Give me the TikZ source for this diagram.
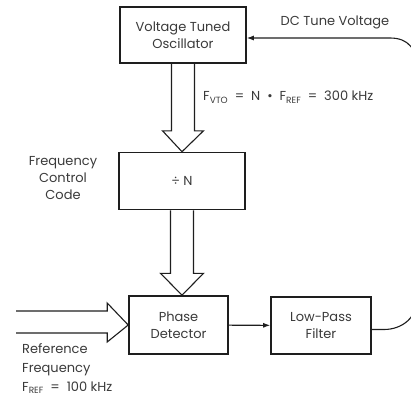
\documentclass[tikz,border=0pt]{standalone}
\usepackage{fontspec}
\setmainfont{Poppins}
\usepackage{tikz}
\usetikzlibrary{arrows.meta, positioning, calc}
\definecolor{sink}{HTML}{1E1E1E}
\definecolor{sprint}{HTML}{3A3A3A}
\newcommand{\lowtag}[1]{\raisebox{-2.5pt}{\fontsize{9}{9}\selectfont #1}}
\newcommand{\gap}{\hspace{7pt}}
\tikzset{
  >=Latex,
  font=\fontsize{13}{17}\selectfont,
  block/.style={
    draw=sink, fill=white, line width=1.6pt, align=center, text=sprint,
    inner sep=0pt, minimum width=#1, font=\fontsize{13}{17}\selectfont
  },
  block/.default=126pt,
  hollow/.style={draw=sink, line width=1.1pt, line join=miter},
  wire/.style={draw=sink, line width=1.1pt},
  tip/.style={-{Latex[length=7pt, width=5pt]}},
  lab/.style={text=sprint, align=#1, inner sep=0pt},
  lab/.default=center
}

\begin{document}
\begin{tikzpicture}[x=1pt, y=-1pt]
  \clip (0,0) rectangle (411,400);
  % blocks
  \node[block, minimum height=56pt] (vto) at (183,35) {Voltage Tuned\\Oscillator};
  \node[block, minimum height=57pt] (divn) at (182,181) {÷ N};
  \node[block=99pt, minimum height=58pt] (pd) at (178.5,325) {Phase\\Detector};
  \node[block=100pt, minimum height=57pt] (lpf) at (321,325.5) {Low-Pass\\Filter};
  % labels
  \node[lab] (dclab) at (335,22) {DC Tune Voltage};
  \node[lab=left, anchor=west] (fvtolab) at (203,97)
    {F\lowtag{VTO}\gap=\gap N\gap\textbullet\gap F\lowtag{REF}\gap=\gap 300 kHz};
  \node[lab] (fcclab) at (63,178) {Frequency\\Control\\Code};
  \node[lab=left, anchor=north west, font=\fontsize{13}{19}\selectfont] (reflab) at (22,343)
    {Reference\\Frequency\\F\lowtag{REF}\gap=\gap 100 kHz};
  % wide arrows
  \draw[hollow] ($(vto.south)+(-11.5,0)$) -- ++(0,67) -- ++(-9,0) -- (divn.north)
    -- ($(vto.south)+(20.5,67)$) -- ++(-9,0) -- ($(vto.south)+(11.5,0)$);
  \draw[hollow] ($(divn.south)+(-11.5,0)$) -- ++(0,63) -- ++(-10,0) -- (divn.south |- pd.north)
    -- ($(divn.south)+(21.5,63)$) -- ++(-10,0) -- ($(divn.south)+(11.5,0)$);
  \draw[hollow] ($(pd.west)+(-112,-14)$) -- ++(91,0) -- ++(0,-8) -- (pd.west)
    -- ($(pd.west)+(-21,17)$) -- ++(0,-9) -- ($(pd.west)+(-112,8)$);
  % signal path
  \draw[wire, tip] (pd) -- (lpf);
  \draw[wire, tip] ($(lpf.east)+(0,4)$) -- ++(12,0)
    .. controls ++(18,0) and (418,318) .. (418,295) -- (418,75)
    .. controls (418,48) and (408,38) .. (390,38) -- (vto.east |- 0,38);
\end{tikzpicture}
\end{document}
